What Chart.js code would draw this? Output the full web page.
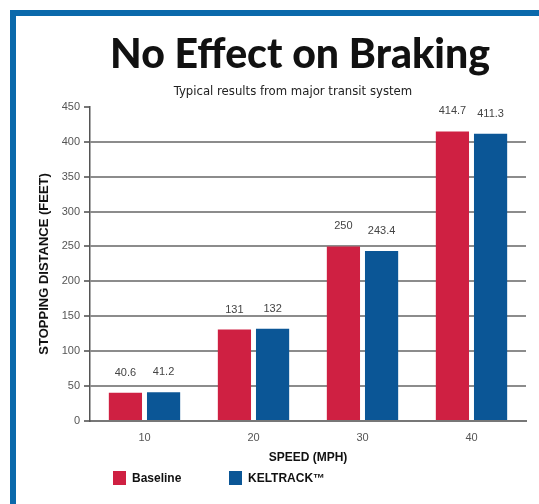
<!DOCTYPE html>
<html>
<head>
<meta charset="utf-8">
<script src="https://cdn.jsdelivr.net/npm/chart.js@4.4.0/dist/chart.umd.min.js"></script>
<style>
    html, body { margin: 0; padding: 0; background: #fff; }
    #wrap { position: relative; width: 539px; height: 504px; overflow: hidden; }
    #frame {
        position: absolute; left: 10px; top: 10px; right: -20px; bottom: -20px;
        border-top: 6px solid #0b69ab; border-left: 6px solid #0b69ab;
    }
    #wrap canvas { position: absolute; left: 0; top: 0; }
</style>
</head>
<body>
<div id="wrap">
    <div id="frame"></div>
    <canvas id="brakingChart" width="539" height="504"></canvas>
</div>
<script>

const speeds = ["10", "20", "30", "40"];
const seriesNames = ["Baseline", "KELTRACK\u2122"];
const baseline = [40.6, 131, 250, 414.7];
const keltrack = [41.2, 132, 243.4, 411.3];
const yTickValues = [0, 50, 100, 150, 200, 250, 300, 350, 400, 450];

const titleText = "No Effect on Braking";
const subtitleText = "Typical results from major transit system";

const seriesColors = ["#cf2042", "#0b5696"];

/* ==========================
   VALUE LABELS OVER BARS
========================== */

const barValueLabels = {
    id: "barValueLabels",
    afterDatasetsDraw(chart) {
        const ctx = chart.ctx;
        ctx.save();
        ctx.font = "11px 'Liberation Sans'";
        ctx.fillStyle = "#444";
        ctx.textAlign = "center";
        ctx.textBaseline = "middle";
        chart.data.datasets.forEach((ds, i) => {
            chart.getDatasetMeta(i).data.forEach((bar, j) => {
                ctx.fillText(String(ds.data[j]), bar.x, bar.y - 20);
            });
        });
        ctx.restore();
    }
};

/* ==========================
   LEGEND UNDER THE AXIS
========================== */

const bottomLegend = {
    id: "bottomLegend",
    afterDraw(chart) {
        const ctx = chart.ctx;
        const xs = [113, 229];
        const y = 478;
        ctx.save();
        ctx.font = "bold 12px 'Liberation Sans'";
        ctx.textBaseline = "middle";
        chart.data.datasets.forEach((ds, i) => {
            ctx.fillStyle = ds.backgroundColor;
            ctx.fillRect(xs[i], y - 7, 13, 14);
            ctx.fillStyle = "#111";
            ctx.fillText(ds.label, xs[i] + 19, y + 1);
        });
        ctx.restore();
    }
};

/* heading is centred a little right of the plot in the original */
const headingShift = {
    id: "headingShift",
    afterLayout(chart) {
        chart.boxes.forEach(box => {
            if (!box.options) return;
            let dx = 0;
            if (box.options.text === titleText) dx = 20;
            if (box.options.text === subtitleText) dx = 13;
            box.left += dx;
            box.right += dx;
        });
    }
};

const canvas = document.getElementById("brakingChart");

new Chart(canvas, {

    type: "bar",

    data: {
        labels: speeds,
        datasets: [
            {
                label: seriesNames[0],
                data: baseline,
                backgroundColor: seriesColors[0]
            },
            {
                label: seriesNames[1],
                data: keltrack,
                backgroundColor: seriesColors[1]
            }
        ]
    },

    options: {

        responsive: false,
        animation: false,

        categoryPercentage: 0.7,
        barPercentage: 0.87,

        layout: {
            padding: { left: 34, right: 13, top: 0, bottom: 33 }
        },

        plugins: {
            title: {
                display: true,
                text: titleText,
                color: "#111",
                font: { family: "Lato", size: 41, weight: "900" },
                padding: { top: 30, bottom: 0 }
            },
            subtitle: {
                display: true,
                text: subtitleText,
                color: "#222",
                font: { family: "'DejaVu Sans Condensed', 'Liberation Sans', sans-serif", size: 13 },
                padding: { top: 5, bottom: 7 }
            },
            legend: { display: false },
            tooltip: { enabled: false }
        },

        scales: {
            x: {
                grid: { display: false },
                border: { display: true, color: "#777", width: 2 },
                ticks: {
                    color: "#555",
                    font: { family: "Liberation Sans", size: 11 },
                    padding: 2
                },
                title: {
                    display: true,
                    text: "SPEED (MPH)",
                    color: "#111",
                    font: { family: "Liberation Sans", size: 12, weight: "bold" },
                    padding: { top: 0, bottom: 6 }
                },
                afterFit(scale) {
                    scale.height = 50;
                }
            },
            y: {
                min: 0,
                max: 450,
                afterBuildTicks(scale) {
                    scale.ticks = yTickValues.map(v => ({ value: v }));
                },
                grid: {
                    color: c => (c.tick && c.tick.value === 450) ? "rgba(0,0,0,0)" : "#8c8c8c",
                    tickColor: "#777",
                    lineWidth: 2,
                    tickLength: 6
                },
                border: { display: true, color: "#555", width: 1.5 },
                ticks: {
                    color: "#555",
                    font: { family: "Liberation Sans", size: 11 },
                    padding: 4
                },
                title: {
                    display: true,
                    text: "STOPPING DISTANCE (FEET)",
                    color: "#111",
                    font: { family: "Liberation Sans", size: 13, weight: "bold" },
                    padding: { top: 3, bottom: 0 }
                },
                afterFit(scale) {
                    scale.width = 56;
                }
            }
        }
    },

    plugins: [barValueLabels, bottomLegend, headingShift]
});

</script>
</body>
</html>
